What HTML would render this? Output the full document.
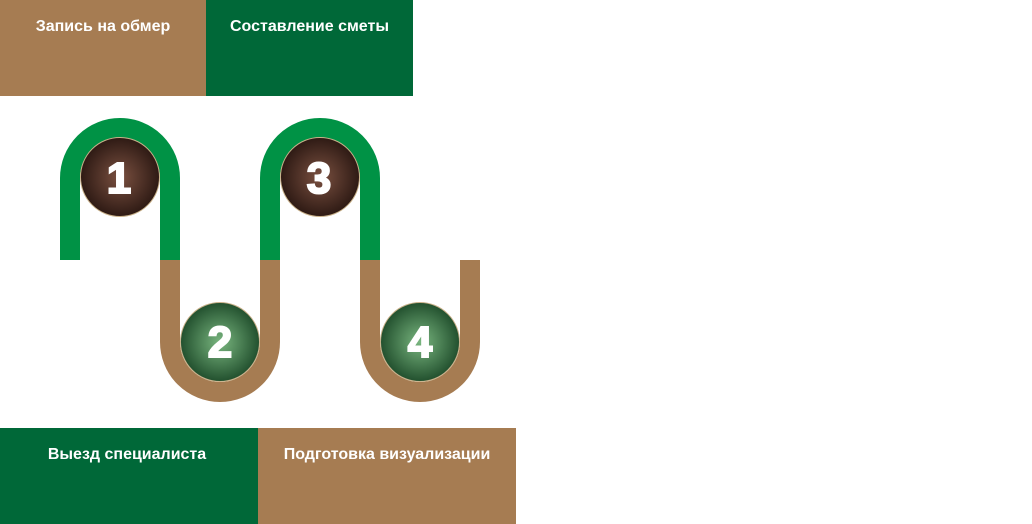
<!DOCTYPE html>
<html><head><meta charset="utf-8"><style>
body{margin:0;width:1032px;height:524px;background:#fff;position:relative;overflow:hidden;font-family:"Liberation Sans",sans-serif}
.b{position:absolute;color:#fff;font-weight:bold;font-size:16px;text-align:center;box-sizing:border-box;padding-top:18px}
</style></head><body>
<div class="b" style="left:0;top:0;width:206px;height:96px;background:#a67c52">Запись на обмер</div>
<div class="b" style="left:206px;top:0;width:207px;height:96px;background:#006838">Составление сметы</div>
<div class="b" style="left:0;top:428px;width:258px;height:96px;background:#006838;padding-right:4px">Выезд специалиста</div>
<div class="b" style="left:258px;top:428px;width:258px;height:96px;background:#a67c52">Подготовка визуализации</div>
<svg width="1032" height="524" style="position:absolute;left:0;top:0">
<defs>
<radialGradient id="br"><stop offset="0" stop-color="#7a5040"/><stop offset="1" stop-color="#2e1a14"/></radialGradient>
<radialGradient id="gr"><stop offset="0" stop-color="#79b67f"/><stop offset="1" stop-color="#22502e"/></radialGradient>
</defs>
<g fill="none" stroke-width="20" stroke-linecap="butt">
<path d="M70 260 V178 A50 50 0 0 1 170 178 V260" stroke="#009245"/>
<path d="M270 260 V178 A50 50 0 0 1 370 178 V260" stroke="#009245"/>
<path d="M170 260 V342 A50 50 0 0 0 270 342 V260" stroke="#a67c52"/>
<path d="M370 260 V342 A50 50 0 0 0 470 342 V260" stroke="#a67c52"/>
</g>
<g stroke="#c9b18a" stroke-width="1">
<circle cx="120" cy="177" r="39.5" fill="url(#br)"/>
<circle cx="320" cy="177" r="39.5" fill="url(#br)"/>
<circle cx="220" cy="342" r="39.5" fill="url(#gr)"/>
<circle cx="420" cy="342" r="39.5" fill="url(#gr)"/>
</g>
<g fill="#fff" stroke="#fff" stroke-width="2" font-family="Liberation Sans,sans-serif" font-weight="bold" font-size="44" text-anchor="middle">
<text x="119" y="193">1</text><text x="319" y="193">3</text>
<text x="220" y="357">2</text><text x="420" y="357">4</text>
</g>
</svg>
</body></html>
